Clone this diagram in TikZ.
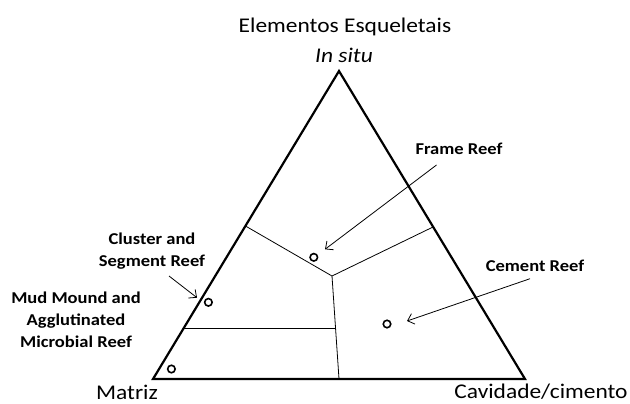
\documentclass[tikz,border=0pt]{standalone}
\usepackage{fontspec}
\setmainfont{Carlito}[FakeStretch=1.12]
\usetikzlibrary{arrows.meta}
\begin{document}
\begin{tikzpicture}[x=1bp,y=-1bp,
  bigtxt/.style={font=\fontsize{21}{24}\selectfont, inner sep=0pt},
  lbl/.style={font=\fontsize{16.6}{22}\selectfont\bfseries, inner sep=0pt, align=center},
  edge/.style={line width=2.2pt, line join=miter},
  divider/.style={line width=0.8pt},
  pointer/.style={line width=0.8pt, -{Straight Barb[length=6pt,width=11pt,line width=0.8pt]}},
  spot/.style={circle, draw, line width=1.6pt, minimum size=7.5bp, inner sep=0pt}]
\useasboundingbox (0,0) rectangle (630,403);
% triangle corners
\coordinate (T) at (339,71);
\coordinate (L) at (153,379);
\coordinate (R) at (525,379);
\draw[edge] (L) -- (T) -- (R) -- cycle;
% internal field boundaries
\coordinate (J) at (332,276);
\coordinate (jl) at (245.5,226);
\coordinate (jr) at (433,227);
\coordinate (jb) at (339,379);
\coordinate (hl) at (183.8,328);
\coordinate (hr) at (336,328);
\draw[divider] (jl) -- (J) -- (jr);
\draw[divider] (J) -- (jb);
\draw[divider] (hl) -- (hr);
% texts
\node[bigtxt] (title) at (345,27) {Elementos Esqueletais};
\node[bigtxt, font=\fontsize{21}{24}\selectfont\itshape] (insitu) at (344,55) {In situ};
\node[bigtxt] (matriz) at (127,392) {Matriz};
\node[bigtxt] (cav) at (541,392) {Cavidade/cimento};
% points
\node[spot] (p1) at (313.8,257.3) {};
\node[spot] (p2) at (208.4,302.3) {};
\node[spot] (p3) at (171.4,369) {};
\node[spot] (p4) at (387,324) {};
% labels
\node[lbl] (frame) at (459,149) {Frame Reef};
\node[lbl] (cement) at (535,266) {Cement Reef};
\node[lbl] (cluster) at (152,251) {Cluster and\\Segment Reef};
\node[lbl] (mud) at (76,320) {Mud Mound and\\Agglutinated\\Microbial Reef};
% arrows
\coordinate (a1s) at (436.5,165);
\coordinate (a1e) at (325,249.3);
\coordinate (a2s) at (169,276);
\coordinate (a2e) at (197,297.7);
\coordinate (a3s) at (530,278.7);
\coordinate (a3e) at (407,321);
\draw[pointer] (a1s) -- (a1e);
\draw[pointer] (a2s) -- (a2e);
\draw[pointer] (a3s) -- (a3e);
\end{tikzpicture}
\end{document}
